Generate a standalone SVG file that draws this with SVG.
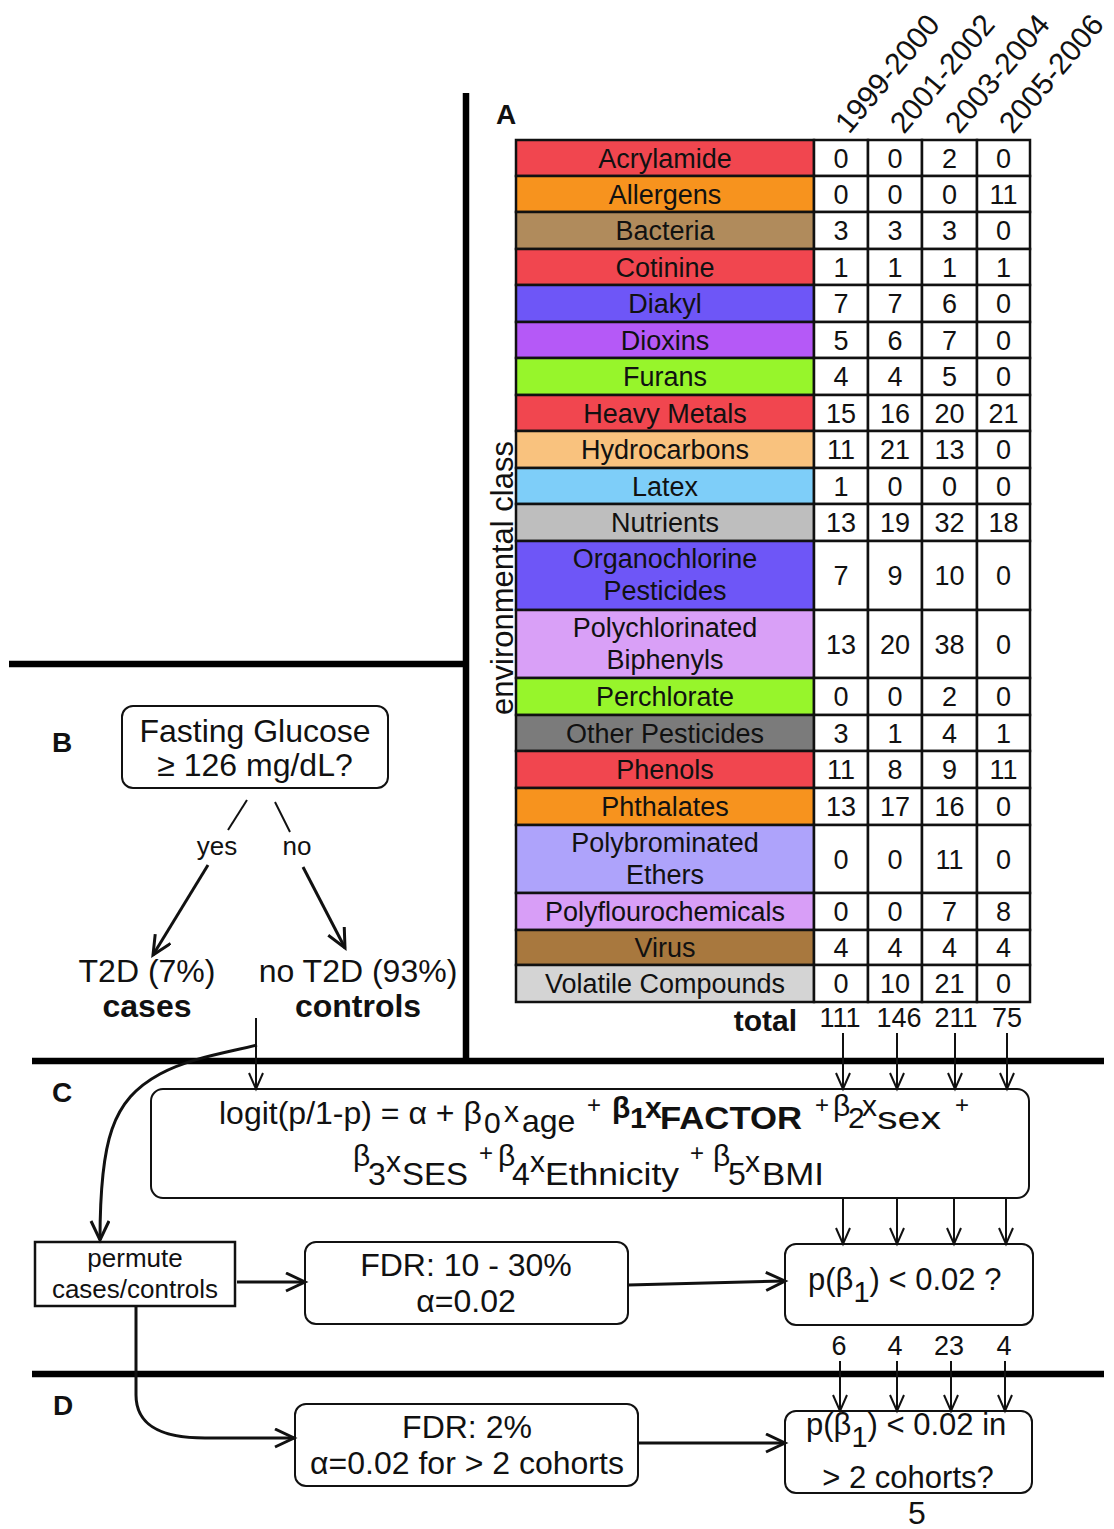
<svg xmlns="http://www.w3.org/2000/svg" width="1114" height="1529" viewBox="0 0 1114 1529">
<defs>
<style>
text{font-family:"Liberation Sans",Arial,sans-serif;fill:#111}
.lbl{font-size:27px;text-anchor:middle}
.num{font-size:27px;text-anchor:middle}
.cell{stroke:#111;stroke-width:2.5}
.yr{font-size:30px}
.big{font-size:32px;text-anchor:middle}
.sec{font-size:28px;font-weight:bold}
.box{fill:#fff;stroke:#111;stroke-width:2}
.div{stroke:#000;stroke-width:6.5;fill:none}
.ln{stroke:#111;stroke-width:2;fill:none}
.lnb{stroke:#111;stroke-width:3;fill:none}
.f{font-size:32px}
.fs{font-size:30px}
.fb{font-size:30px;font-weight:bold}
.sp{font-size:24px}
</style>
<marker id="ah" markerUnits="userSpaceOnUse" markerWidth="22" markerHeight="20" refX="18" refY="8" orient="auto">
<path d="M2,1 L18,8 L2,15" fill="none" stroke="#111" stroke-width="2"/>
</marker>
<marker id="ahB" markerUnits="userSpaceOnUse" markerWidth="26" markerHeight="24" refX="21" refY="10" orient="auto">
<path d="M2,1 L21,10 L2,19" fill="none" stroke="#111" stroke-width="3"/>
</marker>
</defs>
<rect width="1114" height="1529" fill="#fff"/>

<g id="dividers">
<line class="div" x1="466" y1="93" x2="466" y2="1061"/>
<line class="div" x1="9" y1="664" x2="466" y2="664"/>
<line class="div" x1="32" y1="1061" x2="1104" y2="1061" stroke-width="7"/>
<line class="div" x1="32" y1="1374" x2="1104" y2="1374" stroke-width="7"/>
</g>

<g id="section-labels">
<text class="sec" x="496" y="124">A</text>
<text class="sec" x="52" y="752">B</text>
<text class="sec" x="52" y="1102">C</text>
<text class="sec" x="53" y="1415">D</text>
</g>

<g id="years">
<text class="yr" transform="translate(849,135) rotate(-50)">1999-2000</text>
<text class="yr" transform="translate(904,135) rotate(-50)">2001-2002</text>
<text class="yr" transform="translate(959,135) rotate(-50)">2003-2004</text>
<text class="yr" transform="translate(1013,135) rotate(-50)">2005-2006</text>
</g>

<text id="axis-label" font-size="31" text-anchor="middle" transform="translate(513,578) rotate(-90)">environmental class</text>

<g id="table">
<g id="r-acrylamide"><rect class="cell" x="516" y="140" width="298" height="36" fill="#F1464F"/><rect class="cell" x="814" y="140" width="54" height="36" fill="#fff"/><rect class="cell" x="868" y="140" width="54" height="36" fill="#fff"/><rect class="cell" x="922" y="140" width="55" height="36" fill="#fff"/><rect class="cell" x="977" y="140" width="53" height="36" fill="#fff"/>
<text class="lbl" x="665" y="167.5">Acrylamide</text><text class="num" x="841" y="167.5">0</text><text class="num" x="895" y="167.5">0</text><text class="num" x="949.5" y="167.5">2</text><text class="num" x="1003.5" y="167.5">0</text></g>

<g id="r-allergens"><rect class="cell" x="516" y="176" width="298" height="36" fill="#F7931E"/><rect class="cell" x="814" y="176" width="54" height="36" fill="#fff"/><rect class="cell" x="868" y="176" width="54" height="36" fill="#fff"/><rect class="cell" x="922" y="176" width="55" height="36" fill="#fff"/><rect class="cell" x="977" y="176" width="53" height="36" fill="#fff"/>
<text class="lbl" x="665" y="203.5">Allergens</text><text class="num" x="841" y="203.5">0</text><text class="num" x="895" y="203.5">0</text><text class="num" x="949.5" y="203.5">0</text><text class="num" x="1003.5" y="203.5">11</text></g>

<g id="r-bacteria"><rect class="cell" x="516" y="212" width="298" height="37" fill="#B08B5C"/><rect class="cell" x="814" y="212" width="54" height="37" fill="#fff"/><rect class="cell" x="868" y="212" width="54" height="37" fill="#fff"/><rect class="cell" x="922" y="212" width="55" height="37" fill="#fff"/><rect class="cell" x="977" y="212" width="53" height="37" fill="#fff"/>
<text class="lbl" x="665" y="240">Bacteria</text><text class="num" x="841" y="240">3</text><text class="num" x="895" y="240">3</text><text class="num" x="949.5" y="240">3</text><text class="num" x="1003.5" y="240">0</text></g>

<g id="r-cotinine"><rect class="cell" x="516" y="249" width="298" height="36" fill="#F1464F"/><rect class="cell" x="814" y="249" width="54" height="36" fill="#fff"/><rect class="cell" x="868" y="249" width="54" height="36" fill="#fff"/><rect class="cell" x="922" y="249" width="55" height="36" fill="#fff"/><rect class="cell" x="977" y="249" width="53" height="36" fill="#fff"/>
<text class="lbl" x="665" y="276.5">Cotinine</text><text class="num" x="841" y="276.5">1</text><text class="num" x="895" y="276.5">1</text><text class="num" x="949.5" y="276.5">1</text><text class="num" x="1003.5" y="276.5">1</text></g>

<g id="r-diakyl"><rect class="cell" x="516" y="285" width="298" height="37" fill="#6E56F7"/><rect class="cell" x="814" y="285" width="54" height="37" fill="#fff"/><rect class="cell" x="868" y="285" width="54" height="37" fill="#fff"/><rect class="cell" x="922" y="285" width="55" height="37" fill="#fff"/><rect class="cell" x="977" y="285" width="53" height="37" fill="#fff"/>
<text class="lbl" x="665" y="313">Diakyl</text><text class="num" x="841" y="313">7</text><text class="num" x="895" y="313">7</text><text class="num" x="949.5" y="313">6</text><text class="num" x="1003.5" y="313">0</text></g>

<g id="r-dioxins"><rect class="cell" x="516" y="322" width="298" height="36" fill="#B559F7"/><rect class="cell" x="814" y="322" width="54" height="36" fill="#fff"/><rect class="cell" x="868" y="322" width="54" height="36" fill="#fff"/><rect class="cell" x="922" y="322" width="55" height="36" fill="#fff"/><rect class="cell" x="977" y="322" width="53" height="36" fill="#fff"/>
<text class="lbl" x="665" y="349.5">Dioxins</text><text class="num" x="841" y="349.5">5</text><text class="num" x="895" y="349.5">6</text><text class="num" x="949.5" y="349.5">7</text><text class="num" x="1003.5" y="349.5">0</text></g>

<g id="r-furans"><rect class="cell" x="516" y="358" width="298" height="37" fill="#97F52B"/><rect class="cell" x="814" y="358" width="54" height="37" fill="#fff"/><rect class="cell" x="868" y="358" width="54" height="37" fill="#fff"/><rect class="cell" x="922" y="358" width="55" height="37" fill="#fff"/><rect class="cell" x="977" y="358" width="53" height="37" fill="#fff"/>
<text class="lbl" x="665" y="386">Furans</text><text class="num" x="841" y="386">4</text><text class="num" x="895" y="386">4</text><text class="num" x="949.5" y="386">5</text><text class="num" x="1003.5" y="386">0</text></g>

<g id="r-heavymetals"><rect class="cell" x="516" y="395" width="298" height="36" fill="#F1464F"/><rect class="cell" x="814" y="395" width="54" height="36" fill="#fff"/><rect class="cell" x="868" y="395" width="54" height="36" fill="#fff"/><rect class="cell" x="922" y="395" width="55" height="36" fill="#fff"/><rect class="cell" x="977" y="395" width="53" height="36" fill="#fff"/>
<text class="lbl" x="665" y="422.5">Heavy Metals</text><text class="num" x="841" y="422.5">15</text><text class="num" x="895" y="422.5">16</text><text class="num" x="949.5" y="422.5">20</text><text class="num" x="1003.5" y="422.5">21</text></g>

<g id="r-hydrocarbons"><rect class="cell" x="516" y="431" width="298" height="37" fill="#F9C27E"/><rect class="cell" x="814" y="431" width="54" height="37" fill="#fff"/><rect class="cell" x="868" y="431" width="54" height="37" fill="#fff"/><rect class="cell" x="922" y="431" width="55" height="37" fill="#fff"/><rect class="cell" x="977" y="431" width="53" height="37" fill="#fff"/>
<text class="lbl" x="665" y="459">Hydrocarbons</text><text class="num" x="841" y="459">11</text><text class="num" x="895" y="459">21</text><text class="num" x="949.5" y="459">13</text><text class="num" x="1003.5" y="459">0</text></g>

<g id="r-latex"><rect class="cell" x="516" y="468" width="298" height="36" fill="#7ECEF9"/><rect class="cell" x="814" y="468" width="54" height="36" fill="#fff"/><rect class="cell" x="868" y="468" width="54" height="36" fill="#fff"/><rect class="cell" x="922" y="468" width="55" height="36" fill="#fff"/><rect class="cell" x="977" y="468" width="53" height="36" fill="#fff"/>
<text class="lbl" x="665" y="495.5">Latex</text><text class="num" x="841" y="495.5">1</text><text class="num" x="895" y="495.5">0</text><text class="num" x="949.5" y="495.5">0</text><text class="num" x="1003.5" y="495.5">0</text></g>

<g id="r-nutrients"><rect class="cell" x="516" y="504" width="298" height="37" fill="#BEBEBE"/><rect class="cell" x="814" y="504" width="54" height="37" fill="#fff"/><rect class="cell" x="868" y="504" width="54" height="37" fill="#fff"/><rect class="cell" x="922" y="504" width="55" height="37" fill="#fff"/><rect class="cell" x="977" y="504" width="53" height="37" fill="#fff"/>
<text class="lbl" x="665" y="532">Nutrients</text><text class="num" x="841" y="532">13</text><text class="num" x="895" y="532">19</text><text class="num" x="949.5" y="532">32</text><text class="num" x="1003.5" y="532">18</text></g>

<g id="r-organochlorine"><rect class="cell" x="516" y="541" width="298" height="69" fill="#6E56F7"/><rect class="cell" x="814" y="541" width="54" height="69" fill="#fff"/><rect class="cell" x="868" y="541" width="54" height="69" fill="#fff"/><rect class="cell" x="922" y="541" width="55" height="69" fill="#fff"/><rect class="cell" x="977" y="541" width="53" height="69" fill="#fff"/>
<text class="lbl" x="665" y="568">Organochlorine</text><text class="lbl" x="665" y="600">Pesticides</text><text class="num" x="841" y="585">7</text><text class="num" x="895" y="585">9</text><text class="num" x="949.5" y="585">10</text><text class="num" x="1003.5" y="585">0</text></g>

<g id="r-pcb"><rect class="cell" x="516" y="610" width="298" height="68" fill="#D9A0F7"/><rect class="cell" x="814" y="610" width="54" height="68" fill="#fff"/><rect class="cell" x="868" y="610" width="54" height="68" fill="#fff"/><rect class="cell" x="922" y="610" width="55" height="68" fill="#fff"/><rect class="cell" x="977" y="610" width="53" height="68" fill="#fff"/>
<text class="lbl" x="665" y="637">Polychlorinated</text><text class="lbl" x="665" y="669">Biphenyls</text><text class="num" x="841" y="653.5">13</text><text class="num" x="895" y="653.5">20</text><text class="num" x="949.5" y="653.5">38</text><text class="num" x="1003.5" y="653.5">0</text></g>

<g id="r-perchlorate"><rect class="cell" x="516" y="678" width="298" height="37" fill="#97F52B"/><rect class="cell" x="814" y="678" width="54" height="37" fill="#fff"/><rect class="cell" x="868" y="678" width="54" height="37" fill="#fff"/><rect class="cell" x="922" y="678" width="55" height="37" fill="#fff"/><rect class="cell" x="977" y="678" width="53" height="37" fill="#fff"/>
<text class="lbl" x="665" y="706">Perchlorate</text><text class="num" x="841" y="706">0</text><text class="num" x="895" y="706">0</text><text class="num" x="949.5" y="706">2</text><text class="num" x="1003.5" y="706">0</text></g>

<g id="r-otherpesticides"><rect class="cell" x="516" y="715" width="298" height="36" fill="#7B7B7B"/><rect class="cell" x="814" y="715" width="54" height="36" fill="#fff"/><rect class="cell" x="868" y="715" width="54" height="36" fill="#fff"/><rect class="cell" x="922" y="715" width="55" height="36" fill="#fff"/><rect class="cell" x="977" y="715" width="53" height="36" fill="#fff"/>
<text class="lbl" x="665" y="742.5">Other Pesticides</text><text class="num" x="841" y="742.5">3</text><text class="num" x="895" y="742.5">1</text><text class="num" x="949.5" y="742.5">4</text><text class="num" x="1003.5" y="742.5">1</text></g>

<g id="r-phenols"><rect class="cell" x="516" y="751" width="298" height="37" fill="#F1464F"/><rect class="cell" x="814" y="751" width="54" height="37" fill="#fff"/><rect class="cell" x="868" y="751" width="54" height="37" fill="#fff"/><rect class="cell" x="922" y="751" width="55" height="37" fill="#fff"/><rect class="cell" x="977" y="751" width="53" height="37" fill="#fff"/>
<text class="lbl" x="665" y="779">Phenols</text><text class="num" x="841" y="779">11</text><text class="num" x="895" y="779">8</text><text class="num" x="949.5" y="779">9</text><text class="num" x="1003.5" y="779">11</text></g>

<g id="r-phthalates"><rect class="cell" x="516" y="788" width="298" height="37" fill="#F7931E"/><rect class="cell" x="814" y="788" width="54" height="37" fill="#fff"/><rect class="cell" x="868" y="788" width="54" height="37" fill="#fff"/><rect class="cell" x="922" y="788" width="55" height="37" fill="#fff"/><rect class="cell" x="977" y="788" width="53" height="37" fill="#fff"/>
<text class="lbl" x="665" y="816">Phthalates</text><text class="num" x="841" y="816">13</text><text class="num" x="895" y="816">17</text><text class="num" x="949.5" y="816">16</text><text class="num" x="1003.5" y="816">0</text></g>

<g id="r-pbe"><rect class="cell" x="516" y="825" width="298" height="68" fill="#AEA3FB"/><rect class="cell" x="814" y="825" width="54" height="68" fill="#fff"/><rect class="cell" x="868" y="825" width="54" height="68" fill="#fff"/><rect class="cell" x="922" y="825" width="55" height="68" fill="#fff"/><rect class="cell" x="977" y="825" width="53" height="68" fill="#fff"/>
<text class="lbl" x="665" y="852">Polybrominated</text><text class="lbl" x="665" y="884">Ethers</text><text class="num" x="841" y="868.5">0</text><text class="num" x="895" y="868.5">0</text><text class="num" x="949.5" y="868.5">11</text><text class="num" x="1003.5" y="868.5">0</text></g>

<g id="r-polyflouro"><rect class="cell" x="516" y="893" width="298" height="37" fill="#D89EF7"/><rect class="cell" x="814" y="893" width="54" height="37" fill="#fff"/><rect class="cell" x="868" y="893" width="54" height="37" fill="#fff"/><rect class="cell" x="922" y="893" width="55" height="37" fill="#fff"/><rect class="cell" x="977" y="893" width="53" height="37" fill="#fff"/>
<text class="lbl" x="665" y="921">Polyflourochemicals</text><text class="num" x="841" y="921">0</text><text class="num" x="895" y="921">0</text><text class="num" x="949.5" y="921">7</text><text class="num" x="1003.5" y="921">8</text></g>

<g id="r-virus"><rect class="cell" x="516" y="930" width="298" height="35" fill="#A8783E"/><rect class="cell" x="814" y="930" width="54" height="35" fill="#fff"/><rect class="cell" x="868" y="930" width="54" height="35" fill="#fff"/><rect class="cell" x="922" y="930" width="55" height="35" fill="#fff"/><rect class="cell" x="977" y="930" width="53" height="35" fill="#fff"/>
<text class="lbl" x="665" y="957">Virus</text><text class="num" x="841" y="957">4</text><text class="num" x="895" y="957">4</text><text class="num" x="949.5" y="957">4</text><text class="num" x="1003.5" y="957">4</text></g>

<g id="r-volatile"><rect class="cell" x="516" y="965" width="298" height="37" fill="#D4D4D4"/><rect class="cell" x="814" y="965" width="54" height="37" fill="#fff"/><rect class="cell" x="868" y="965" width="54" height="37" fill="#fff"/><rect class="cell" x="922" y="965" width="55" height="37" fill="#fff"/><rect class="cell" x="977" y="965" width="53" height="37" fill="#fff"/>
<text class="lbl" x="665" y="993">Volatile Compounds</text><text class="num" x="841" y="993">0</text><text class="num" x="895" y="993">10</text><text class="num" x="949.5" y="993">21</text><text class="num" x="1003.5" y="993">0</text></g>

<g id="r-total">
<text x="797" y="1031" font-size="30" font-weight="bold" text-anchor="end">total</text>
<text class="num" x="840" y="1027">111</text><text class="num" x="899" y="1027">146</text><text class="num" x="956" y="1027">211</text><text class="num" x="1007" y="1027">75</text>
</g>
</g>

<g id="node-glucose">
<rect class="box" x="122" y="706" width="266" height="82" rx="11"/>
<text class="big" x="255" y="742">Fasting Glucose</text>
<text class="big" x="255" y="776">≥ 126 mg/dL?</text>
</g>
<g id="node-cases">
<text class="big" x="147" y="982">T2D (7%)</text>
<text class="big" x="147" y="1017" font-weight="bold">cases</text>
</g>
<g id="node-controls">
<text class="big" x="358" y="982">no T2D (93%)</text>
<text class="big" x="358" y="1017" font-weight="bold">controls</text>
</g>

<g id="node-formula">
<rect class="box" x="151" y="1089" width="878" height="109" rx="12"/>
<text class="f" x="219" y="1124">logit(p/1-p) = α + β</text>
<text class="fs" x="484" y="1133">0</text>
<text class="fs" x="504" y="1122">x</text>
<text class="f" x="522" y="1132">age</text>
<text class="sp" x="587" y="1113">+</text>
<text class="fb" x="612" y="1118">β</text>
<text class="fb" x="630" y="1128">1</text>
<text class="fb" x="645" y="1118">x</text>
<text x="660" y="1129" font-size="32" font-weight="bold" textLength="142" lengthAdjust="spacingAndGlyphs">FACTOR</text>
<text class="sp" x="815" y="1113">+</text>
<text class="fs" x="833" y="1116">β</text>
<text class="fs" x="848" y="1128">2</text>
<text class="fs" x="862" y="1116">x</text>
<text class="f" x="877" y="1129" textLength="64" lengthAdjust="spacingAndGlyphs">sex</text>
<text class="sp" x="955" y="1113">+</text>

<text class="fs" x="353" y="1166">β</text>
<text class="f" x="368" y="1185">3</text>
<text class="fs" x="386" y="1172">x</text>
<text class="f" x="402" y="1185" textLength="66" lengthAdjust="spacingAndGlyphs">SES</text>
<text class="sp" x="479" y="1161">+</text>
<text class="fs" x="498" y="1166">β</text>
<text class="f" x="512" y="1185">4</text>
<text class="fs" x="530" y="1172">x</text>
<text class="f" x="545" y="1185" textLength="134" lengthAdjust="spacingAndGlyphs">Ethnicity</text>
<text class="sp" x="690" y="1161">+</text>
<text class="fs" x="713" y="1166">β</text>
<text class="f" x="728" y="1185">5</text>
<text class="fs" x="745" y="1172">x</text>
<text class="f" x="762" y="1185" textLength="62" lengthAdjust="spacingAndGlyphs">BMI</text>
</g>

<g id="node-permute">
<rect x="35" y="1242" width="200" height="64" fill="#fff" stroke="#111" stroke-width="2.5"/>
<text x="135" y="1267" font-size="26" text-anchor="middle">permute</text>
<text x="135" y="1298" font-size="26" text-anchor="middle">cases/controls</text>
</g>

<g id="node-fdr1">
<rect class="box" x="305" y="1242" width="323" height="82" rx="11"/>
<text class="big" x="466" y="1276">FDR: 10 - 30%</text>
<text class="big" x="466" y="1312">α=0.02</text>
</g>

<g id="node-p1">
<rect class="box" x="785" y="1244" width="248" height="81" rx="11"/>
<text x="808" y="1290" font-size="31">p(β<tspan font-size="29" dy="12">1</tspan><tspan dy="-12">) &lt; 0.02 ?</tspan></text>
</g>

<g id="counts">
<text class="num" x="839" y="1355">6</text><text class="num" x="895" y="1355">4</text><text class="num" x="949" y="1355">23</text><text class="num" x="1004" y="1355">4</text>
</g>

<g id="node-fdr2">
<rect class="box" x="295" y="1404" width="343" height="82" rx="11"/>
<text class="big" x="467" y="1438">FDR: 2%</text>
<text class="big" x="467" y="1474">α=0.02 for &gt; 2 cohorts</text>
</g>

<g id="node-p2">
<rect class="box" x="785" y="1411" width="247" height="82" rx="11"/>
<text x="806" y="1435" font-size="31">p(β<tspan font-size="29" dy="12">1</tspan><tspan dy="-12">) &lt; 0.02 in</tspan></text>
<text x="908" y="1488" font-size="31" text-anchor="middle">&gt; 2 cohorts?</text>
</g>

<text id="final-count" class="big" x="917" y="1524" font-size="30">5</text>

<g id="connectors">
<line class="ln" x1="247" y1="800" x2="228" y2="830" stroke-width="2.5"/>
<line class="ln" x1="275" y1="802" x2="290" y2="832" stroke-width="2.5"/>
<text x="217" y="855" font-size="26" text-anchor="middle">yes</text>
<text x="297" y="855" font-size="26" text-anchor="middle">no</text>
<line class="lnb" x1="208" y1="865" x2="153" y2="955" stroke-width="2.5" marker-end="url(#ahB)"/>
<line class="lnb" x1="303" y1="867" x2="345" y2="948" stroke-width="2.5" marker-end="url(#ahB)"/>

<line class="ln" x1="256" y1="1018" x2="256" y2="1089" marker-end="url(#ah)"/>
<path class="lnb" d="M257,1045 C225,1053 190,1058 160,1074 C112,1100 100,1140 100,1240" marker-end="url(#ahB)"/>

<line class="ln" x1="843" y1="1033" x2="843" y2="1089" marker-end="url(#ah)"/>
<line class="ln" x1="897" y1="1033" x2="897" y2="1089" marker-end="url(#ah)"/>
<line class="ln" x1="955" y1="1033" x2="955" y2="1089" marker-end="url(#ah)"/>
<line class="ln" x1="1007" y1="1033" x2="1007" y2="1089" marker-end="url(#ah)"/>

<line class="ln" x1="843" y1="1198" x2="843" y2="1244" marker-end="url(#ah)"/>
<line class="ln" x1="897" y1="1198" x2="897" y2="1244" marker-end="url(#ah)"/>
<line class="ln" x1="954" y1="1198" x2="954" y2="1244" marker-end="url(#ah)"/>
<line class="ln" x1="1006" y1="1198" x2="1006" y2="1244" marker-end="url(#ah)"/>

<line class="lnb" x1="237" y1="1282" x2="305" y2="1282" marker-end="url(#ahB)"/>
<line class="lnb" x1="628" y1="1285" x2="785" y2="1281" marker-end="url(#ahB)"/>

<line class="ln" x1="840" y1="1361" x2="840" y2="1411" marker-end="url(#ah)"/>
<line class="ln" x1="897" y1="1361" x2="897" y2="1411" marker-end="url(#ah)"/>
<line class="ln" x1="951" y1="1361" x2="951" y2="1411" marker-end="url(#ah)"/>
<line class="ln" x1="1005" y1="1361" x2="1005" y2="1411" marker-end="url(#ah)"/>

<path class="lnb" d="M136,1306 L136,1395 C136,1428 165,1438 205,1438 L294,1438" marker-end="url(#ahB)"/>
<line class="lnb" x1="638" y1="1443" x2="785" y2="1443" marker-end="url(#ahB)"/>
</g>
</svg>
